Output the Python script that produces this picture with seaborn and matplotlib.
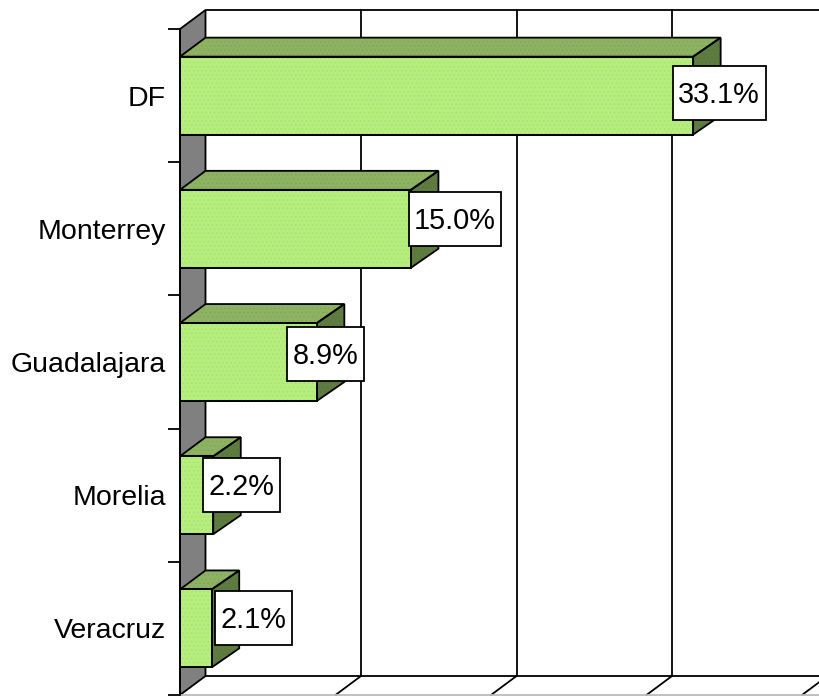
import matplotlib
matplotlib.use('Agg')
import matplotlib.pyplot as plt
import seaborn as sns
from matplotlib.patches import Polygon, Rectangle

cities = ['DF', 'Monterrey', 'Guadalajara', 'Morelia', 'Veracruz']
# bar lengths as measured on the picture, the labels are the printed values
shares = [33.0, 14.85, 8.8, 2.14, 2.04]
labels = ['33.1%', '15.0%', '8.9%', '2.2%', '2.1%']
grid_values = [10, 20, 30, 40]

# label box centre relative to the bar end and box width, in pixels
label_dx = [26, 44, 8.6, 28.4, 41.7]
label_dy = [2.3, 9.8, 8.5, 10.7, 10]
label_w = [93, 92, 77, 77, 77]
LABEL_H = 54

FRONT = '#B6EE7E'
FRONT_DOT = '#A6E070'
TOP = '#8CB262'
TOP_DOT = '#82A65A'
SIDE = '#5F7C40'
SIDE_DOT = '#58743C'
WALL = '#808080'
LW = 1.3
PX_X = 15.55
PX_Y = 133.2

sns.set_style('white')
plt.rcParams['font.family'] = ['Liberation Sans', 'DejaVu Sans']
plt.rcParams['hatch.linewidth'] = 0.5

fig = plt.figure(figsize=(8.19, 6.96), dpi=100)
ax = fig.add_axes([180 / 819, 1 / 696, 639 / 819, 666 / 696])

sns.barplot(x=shares, y=cities, color=FRONT, saturation=1, width=0.585,
            edgecolor='black', linewidth=LW, zorder=4, ax=ax)

ax.set_xlim(0, 639 / PX_X)
ax.set_ylim(4.5, -0.5)

# depth of the fake 3d box, in data units
dx = 25.5 / PX_X
bar_dx = 27.5 / PX_X
dy = -19 / PX_Y
y_top, y_bottom = -0.5, 4.5


def face(points, color, dot, z):
    ax.add_patch(Polygon(points, closed=True, facecolor=color, edgecolor='none',
                         clip_on=False, zorder=z))
    ax.add_patch(Polygon(points, closed=True, fill=False, edgecolor=dot, linewidth=0,
                         hatch='....', clip_on=False, zorder=z + 0.1))
    ax.add_patch(Polygon(points, closed=True, fill=False, edgecolor='black', linewidth=LW,
                         clip_on=False, zorder=z + 0.2))


# back wall and floor
ax.add_patch(Polygon([(0, y_top), (dx, y_top + dy), (dx, y_bottom + dy), (0, y_bottom)],
                     closed=True, facecolor=WALL, edgecolor='black', linewidth=LW,
                     clip_on=False, zorder=1))
x_max = ax.get_xlim()[1]
ax.plot([dx, x_max], [y_top + dy, y_top + dy], color='black', lw=LW, clip_on=False, zorder=2)
ax.plot([dx, x_max], [y_bottom + dy, y_bottom + dy], color='black', lw=LW, clip_on=False, zorder=2)
for g in grid_values:
    ax.plot([g + dx, g + dx], [y_top + dy, y_bottom + dy], color='black', lw=LW, clip_on=False, zorder=2)
    ax.plot([g, g + dx], [y_bottom, y_bottom + dy], color='black', lw=LW, clip_on=False, zorder=2)

# top and side faces of every bar
bars = [b for b in ax.patches if isinstance(b, Rectangle) and b.get_width() > 0]
for bar in bars:
    x1 = bar.get_width()
    y0 = bar.get_y()
    y1 = y0 + bar.get_height()
    face([(0, y0), (dx, y0 + dy), (x1 + bar_dx, y0 + dy), (x1, y0)], TOP, TOP_DOT, 3)
    face([(x1, y0), (x1 + bar_dx, y0 + dy), (x1 + bar_dx, y1 + dy), (x1, y1)], SIDE, SIDE_DOT, 3)
    ax.add_patch(Rectangle((0, y0), x1, y1 - y0, fill=False, edgecolor=FRONT_DOT, linewidth=0,
                           hatch='....', zorder=4.1))
    ax.add_patch(Rectangle((0, y0), x1, y1 - y0, fill=False, edgecolor='black', linewidth=LW,
                           zorder=4.2))

for i, share in enumerate(shares):
    cx = share + label_dx[i] / PX_X
    cy = i - label_dy[i] / PX_Y
    w = label_w[i] / PX_X
    h = LABEL_H / PX_Y
    ax.add_patch(Rectangle((cx - w / 2, cy - h / 2), w, h, facecolor='white', edgecolor='black',
                           linewidth=LW, zorder=5))
    ax.text(cx, cy + 2 / PX_Y, labels[i], ha='center', va='center', fontsize=20.8, color='black', zorder=6)

sns.despine(ax=ax, top=True, right=True, left=False, bottom=False)
ax.spines['left'].set_color('black')
ax.spines['left'].set_linewidth(LW)
ax.spines['left'].set_zorder(4.5)
ax.spines['bottom'].set_color('#BBBBBB')
ax.spines['bottom'].set_linewidth(LW)

ax.set_xticks([])
ax.set_yticks([-0.5, 0.5, 1.5, 2.5, 3.5, 4.5], minor=True)
ax.tick_params(axis='y', which='minor', left=True, length=8.6, width=LW, color='black')
ax.tick_params(axis='y', which='major', left=False, length=0, pad=10.2, labelsize=20.5, labelcolor='black')
ax.set_xlabel('')
ax.set_ylabel('')

fig.savefig('out.png', dpi=100)
